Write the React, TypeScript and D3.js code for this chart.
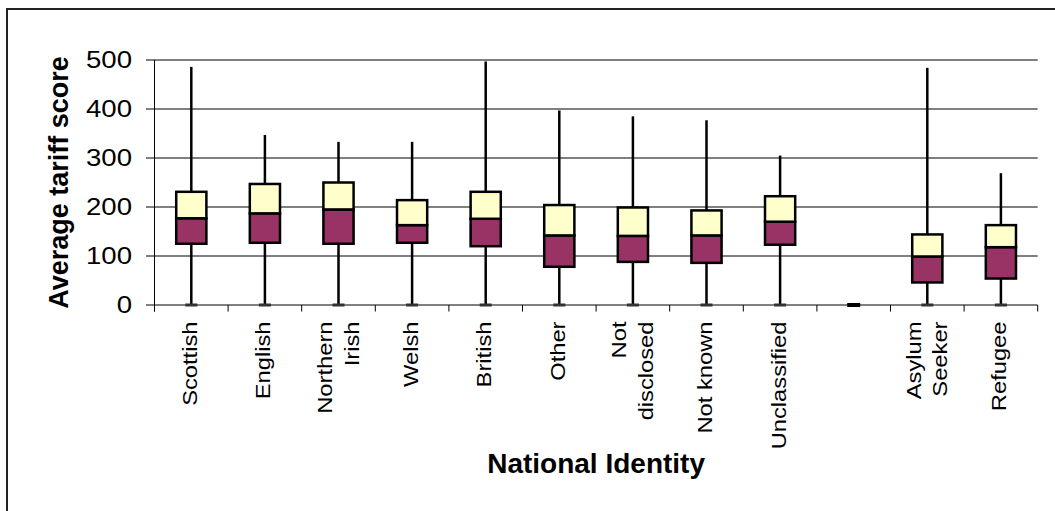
import React from "react";
import * as d3 from "d3";

const categories: string[][] = [
  ["Scottish"],
  ["English"],
  ["Northern", "Irish"],
  ["Welsh"],
  ["British"],
  ["Other"],
  ["Not", "disclosed"],
  ["Not known"],
  ["Unclassified"],
  [],
  ["Asylum", "Seeker"],
  ["Refugee"],
];
const maxValues = [486, 347, 333, 333, 497, 397, 385, 377, 305, 0, 484, 269];
const q3Values = [231, 247, 250, 214, 231, 204, 199, 193, 222, 0, 144, 163];
const medianValues = [177, 187, 195, 163, 176, 142, 141, 142, 170, 0, 99, 118];
const q1Values = [125, 127, 125, 127, 120, 78, 88, 86, 123, 0, 46, 54];
const minValues = [0, 0, 0, 0, 0, 0, 0, 0, 0, 0, 0, 0];
const yTicks = [0, 100, 200, 300, 400, 500];

const FONT = "'Liberation Sans', Arial, Helvetica, sans-serif";

export default function App() {
  const W = 1055;
  const H = 511;
  const left = 154.5;
  const right = 1037.7;
  const top = 60;
  const bottom = 305;
  const idx = categories.map((_, i) => i);
  const x = d3.scaleBand<number>().domain(idx).range([left, right]).padding(0);
  const y = d3.scaleLinear().domain([0, 500]).range([bottom, top]);
  const bw = x.bandwidth();
  const boxW = bw * 0.41;
  const boundaries = d3.range(categories.length + 1).map((i) => left + i * bw);

  return (
    <svg
      width={W}
      height={H}
      style={{ position: "absolute", left: 0, top: 0, background: "#fff" }}
    >
      <rect x={0} y={0} width={W} height={H} fill="#fff" />
      <rect x={7} y={9} width={1200} height={700} fill="none" stroke="#222" strokeWidth={2} />

      {/* gridlines */}
      {yTicks.map((t) => (
        <line key={"g" + t} x1={left - 8.5} x2={right} y1={y(t)} y2={y(t)} stroke="#000" strokeWidth={1} />
      ))}
      {/* y axis */}
      <line x1={left} x2={left} y1={top} y2={bottom + 6.5} stroke="#000" strokeWidth={1} />
      {/* x ticks */}
      {boundaries.map((b, i) => (
        <line key={"xt" + i} x1={b} x2={b} y1={bottom} y2={bottom + 6.5} stroke="#000" strokeWidth={1} />
      ))}
      {/* y tick labels */}
      {yTicks.map((t) => (
        <text
          key={"yl" + t}
          transform={`translate(132,${y(t) + 8}) scale(1.2,1)`}
          textAnchor="end"
          fontFamily={FONT}
          fontSize={23}
          fill="#000"
        >
          {t}
        </text>
      ))}

      {/* boxes */}
      {idx.map((i) => {
        const cx = (x(i) as number) + bw / 2;
        const empty = maxValues[i] === 0;
        return (
          <g key={"b" + i}>
            {!empty && (
              <line x1={cx} x2={cx} y1={y(minValues[i])} y2={y(maxValues[i])} stroke="#000" strokeWidth={2.5} />
            )}
            <rect
              x={cx - (empty ? 6.5 : 6)}
              y={y(minValues[i]) - (empty ? 2 : 1.5)}
              width={empty ? 13 : 12}
              height={empty ? 4 : 3}
              fill={empty ? "#000" : "#333"}
            />
            {!empty && (
              <>
                <rect
                  x={cx - boxW / 2}
                  y={y(medianValues[i])}
                  width={boxW}
                  height={y(q1Values[i]) - y(medianValues[i])}
                  fill="#993366"
                  stroke="#000"
                  strokeWidth={2.5}
                />
                <rect
                  x={cx - boxW / 2}
                  y={y(q3Values[i])}
                  width={boxW}
                  height={y(medianValues[i]) - y(q3Values[i])}
                  fill="#FFFFCC"
                  stroke="#000"
                  strokeWidth={2.5}
                />
              </>
            )}
          </g>
        );
      })}

      {/* x labels */}
      {idx.map((i) => {
        const cx = (x(i) as number) + bw / 2;
        const lines = categories[i];
        const offs = lines.length === 1 ? [5.5] : [-6.5, 20];
        return lines.map((ln, j) => (
          <text
            key={"xl" + i + "_" + j}
            transform={`translate(${cx + offs[j]},321.5) rotate(-90) scale(1.13,1)`}
            textAnchor="end"
            fontFamily={FONT}
            fontSize={21}
            fill="#000"
          >
            {ln}
          </text>
        ));
      })}

      {/* axis titles */}
      <text
        transform={`translate(68.3,${(top + bottom) / 2}) rotate(-90)`}
        textAnchor="middle"
        fontFamily={FONT}
        fontSize={27}
        fontWeight="bold"
        fill="#000"
      >
        Average tariff score
      </text>
      <text
        x={(left + right) / 2}
        y={473.3}
        textAnchor="middle"
        fontFamily={FONT}
        fontSize={28}
        fontWeight="bold"
        fill="#000"
      >
        National Identity
      </text>
    </svg>
  );
}
